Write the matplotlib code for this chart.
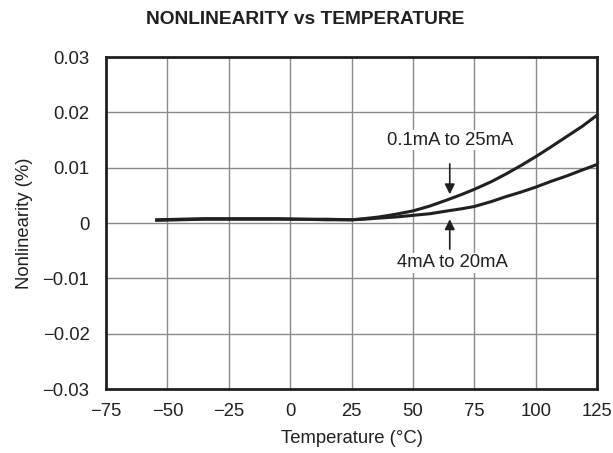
import numpy as np
import matplotlib.pyplot as plt

temp = [-55, -45, -35, -25, -15, -5, 5, 15, 25, 30, 36, 43, 50, 57, 64, 70, 75, 82, 88, 94, 100, 106, 112.5, 119, 125]
nl_wide = [0.0006, 0.0007, 0.0008, 0.0008, 0.0008, 0.0008, 0.0007, 0.0007, 0.0006, 0.0008, 0.0011, 0.0016, 0.0022,
           0.0031, 0.0042, 0.0052, 0.0061, 0.0075, 0.0089, 0.0104, 0.0120, 0.0137, 0.0156, 0.0175, 0.0195]
nl_std = [0.0005, 0.0006, 0.0007, 0.0007, 0.0007, 0.0007, 0.0007, 0.0006, 0.0006, 0.0007, 0.0009, 0.0011, 0.0014,
          0.0017, 0.0022, 0.0026, 0.0030, 0.0039, 0.0048, 0.0056, 0.0065, 0.0075, 0.0085, 0.0096, 0.0106]

xticks = [-75, -50, -25, 0, 25, 50, 75, 100, 125]
xtick_labels = ["\u221275", "\u221250", "\u221225", "0", "25", "50", "75", "100", "125"]
yticks = [-0.03, -0.02, -0.01, 0, 0.01, 0.02, 0.03]
ytick_labels = ["\u22120.03", "\u22120.02", "\u22120.01", "0", "0.01", "0.02", "0.03"]

plt.rcParams['font.family'] = ['Liberation Sans', 'DejaVu Sans']
ink = '#231f20'
fs = 13.3

fig = plt.figure(figsize=(6.13, 4.53), dpi=100)
ax = fig.add_axes([0.173, 0.141, 0.801, 0.733])

ax.plot(temp, nl_wide, color=ink, lw=2.2, solid_capstyle='butt', solid_joinstyle='round')
ax.plot(temp, nl_std, color=ink, lw=2.2, solid_capstyle='butt', solid_joinstyle='round')

ax.set_xlim(-75, 125)
ax.set_ylim(-0.03, 0.03)
ax.set_xticks(xticks)
ax.set_xticklabels(xtick_labels)
ax.set_yticks(yticks)
ax.set_yticklabels(ytick_labels)
ax.tick_params(axis='y', length=0, labelsize=fs, pad=12, colors=ink)
ax.tick_params(axis='x', length=0, labelsize=fs, pad=10, colors=ink)
ax.grid(True, color='#8a8a8a', lw=1.0)
ax.set_axisbelow(True)
for s in ax.spines.values():
    s.set_linewidth(2)
    s.set_color(ink)

ax.set_xlabel("Temperature (\u00b0C)", fontsize=fs, labelpad=7, color=ink)
ax.set_ylabel("Nonlinearity (%)", fontsize=fs, labelpad=7, color=ink)
fig.text(0.498, 1 - 20 / 453, "NONLINEARITY vs TEMPERATURE", ha='center', va='center',
         fontsize=13.8, fontweight='bold', color=ink)

ax.annotate("", xy=(65, 0.0047), xytext=(65, 0.0112),
            arrowprops=dict(arrowstyle='-|>', color=ink, lw=1.2, mutation_scale=15))
ax.annotate("", xy=(65, 0.0012), xytext=(65, -0.0052),
            arrowprops=dict(arrowstyle='-|>', color=ink, lw=1.2, mutation_scale=15))
ax.text(65, 0.0150, "0.1mA to 25mA", ha='center', va='center', fontsize=fs, color=ink,
        bbox=dict(facecolor='white', edgecolor='none', pad=1))
ax.text(66, -0.0072, "4mA to 20mA", ha='center', va='center', fontsize=fs, color=ink,
        bbox=dict(facecolor='white', edgecolor='none', pad=1))

fig.savefig("out.png", dpi=100)
